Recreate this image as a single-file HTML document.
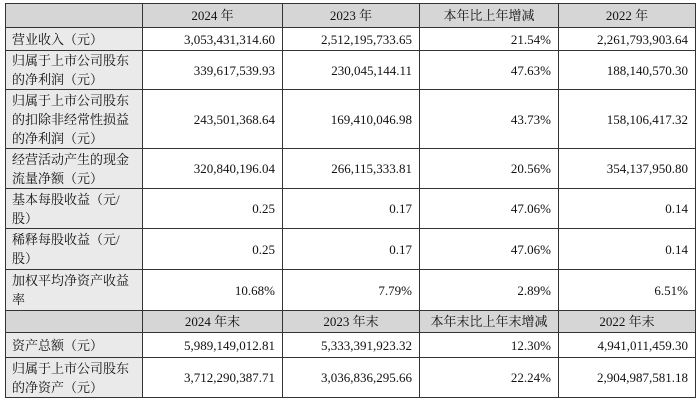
<!DOCTYPE html>
<html><head><meta charset="utf-8"><style>
body{margin:0;width:700px;height:401px;background:#fff;overflow:hidden}
table{position:absolute;left:5px;top:3px;border-collapse:collapse;table-layout:fixed;font-family:"Liberation Serif","Noto Serif CJK SC",serif;font-size:13px;color:#111}
td{border:1px solid #333;padding:0 7px;line-height:19px;text-align:right;vertical-align:middle;white-space:nowrap;overflow:hidden}
td.l{text-align:left;background:#eaeaea;padding-left:6px}
tr.h td{background:#d6d6d6;text-align:center}
</style></head><body>
<table>
<colgroup><col style="width:137px"><col style="width:140px"><col style="width:137px"><col style="width:139px"><col style="width:137px"></colgroup>
<tr class="h" style="height:24px"><td></td><td>2024 年</td><td>2023 年</td><td>本年比上年增减</td><td>2022 年</td></tr>
<tr style="height:23px"><td class="l">营业收入（元）</td><td>3,053,431,314.60</td><td>2,512,195,733.65</td><td>21.54%</td><td>2,261,793,903.64</td></tr>
<tr style="height:39px"><td class="l">归属于上市公司股东<br>的净利润（元）</td><td>339,617,539.93</td><td>230,045,144.11</td><td>47.63%</td><td>188,140,570.30</td></tr>
<tr style="height:59px"><td class="l">归属于上市公司股东<br>的扣除非经常性损益<br>的净利润（元）</td><td>243,501,368.64</td><td>169,410,046.98</td><td>43.73%</td><td>158,106,417.32</td></tr>
<tr style="height:40px"><td class="l">经营活动产生的现金<br>流量净额（元）</td><td>320,840,196.04</td><td>266,115,333.81</td><td>20.56%</td><td>354,137,950.80</td></tr>
<tr style="height:40px"><td class="l">基本每股收益（元/<br>股）</td><td>0.25</td><td>0.17</td><td>47.06%</td><td>0.14</td></tr>
<tr style="height:41px"><td class="l">稀释每股收益（元/<br>股）</td><td>0.25</td><td>0.17</td><td>47.06%</td><td>0.14</td></tr>
<tr style="height:41px"><td class="l">加权平均净资产收益<br>率</td><td>10.68%</td><td>7.79%</td><td>2.89%</td><td>6.51%</td></tr>
<tr class="h" style="height:22px"><td></td><td>2024 年末</td><td>2023 年末</td><td>本年末比上年末增减</td><td>2022 年末</td></tr>
<tr style="height:25px"><td class="l">资产总额（元）</td><td>5,989,149,012.81</td><td>5,333,391,923.32</td><td>12.30%</td><td>4,941,011,459.30</td></tr>
<tr style="height:40px"><td class="l">归属于上市公司股东<br>的净资产（元）</td><td>3,712,290,387.71</td><td>3,036,836,295.66</td><td>22.24%</td><td>2,904,987,581.18</td></tr>
</table>
</body></html>
